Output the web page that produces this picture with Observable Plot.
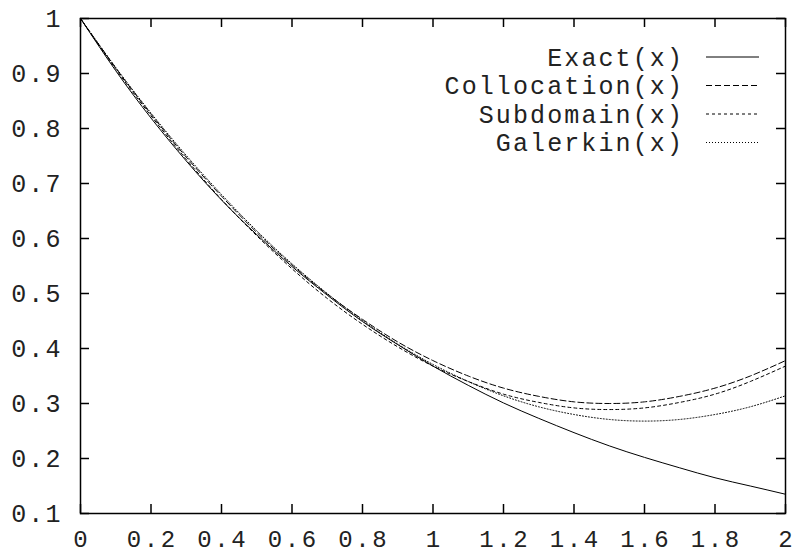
<!DOCTYPE html>
<html>
<head>
<meta charset="utf-8">
<script src="https://cdn.jsdelivr.net/npm/d3@7"></script>
<script src="https://cdn.jsdelivr.net/npm/@observablehq/plot@0.6"></script>
<style>
  html, body { margin: 0; padding: 0; background: #fff; }
  #chart svg text { letter-spacing: 2.1px; }
  #chart svg g[aria-label="x-axis tick label"] text { letter-spacing: 2.6px; font-size: 24px; }
</style>
</head>
<body>
<div id="chart"></div>
<script>
const xs = [0, 0.1, 0.2, 0.3, 0.4, 0.5, 0.6, 0.7, 0.8, 0.9, 1.0, 1.1, 1.2, 1.3, 1.4, 1.5, 1.6, 1.7, 1.8, 1.9, 2.0];
const exact = [1, 0.905, 0.819, 0.741, 0.670, 0.607, 0.549, 0.497, 0.449, 0.407, 0.368, 0.333, 0.301, 0.273, 0.247, 0.223, 0.202, 0.183, 0.165, 0.150, 0.135];
const collocation = [1, 0.910, 0.826, 0.748, 0.677, 0.611, 0.552, 0.499, 0.453, 0.412, 0.378, 0.350, 0.328, 0.313, 0.303, 0.300, 0.303, 0.313, 0.328, 0.350, 0.378];
const subdomain = [1, 0.908, 0.823, 0.744, 0.671, 0.605, 0.545, 0.491, 0.444, 0.403, 0.368, 0.340, 0.317, 0.302, 0.292, 0.289, 0.292, 0.302, 0.317, 0.340, 0.368];
const galerkin = [1, 0.911, 0.828, 0.751, 0.680, 0.614, 0.554, 0.500, 0.451, 0.408, 0.371, 0.340, 0.314, 0.294, 0.280, 0.271, 0.268, 0.271, 0.280, 0.294, 0.314];
const seriesNames = ["Exact(x)", "Collocation(x)", "Subdomain(x)", "Galerkin(x)"];
const seriesDash = ["none", "6,3", "3,3", "1,2"];
const xTicks = [0, 0.2, 0.4, 0.6, 0.8, 1, 1.2, 1.4, 1.6, 1.8, 2];
const yTicks = [0.1, 0.2, 0.3, 0.4, 0.5, 0.6, 0.7, 0.8, 0.9, 1];

const seriesValues = [exact, collocation, subdomain, galerkin];
const W = 794, H = 554, mL = 80, mR = 9, mT = 18, mB = 41;
const fw = W - mL - mR, fh = H - mT - mB, tick = 9;
const FONT = '"Liberation Mono", "DejaVu Sans Mono", monospace';

const lineMarks = seriesValues.map((vals, i) =>
  Plot.line(xs.map((x, j) => ({x, y: vals[j]})), {
    x: "x", y: "y", stroke: "black", strokeWidth: 1,
    strokeDasharray: seriesDash[i] === "none" ? undefined : seriesDash[i],
    curve: "natural"
  })
);

const chart = Plot.plot({
  width: W, height: H,
  marginLeft: mL, marginRight: mR, marginTop: mT, marginBottom: mB,
  x: {domain: [0, 2], label: null},
  y: {domain: [0.1, 1], label: null},
  style: {fontFamily: FONT, fontSize: "25px", background: "white", color: "black", overflow: "visible"},
  marks: [
    Plot.axisX(xTicks, {tickSize: 0, tickPadding: 16, fontSize: 24, tickFormat: d => String(d), dx: 1.3, fill: "#222", label: null}),
    Plot.axisY(yTicks, {tickSize: 0, tickPadding: 18, tickFormat: d => String(d), fill: "#222", label: null}),
    Plot.tickX(xTicks, {x: d => d, insetTop: fh - tick, stroke: "black", strokeWidth: 1.5}),
    Plot.tickX(xTicks, {x: d => d, insetBottom: fh - tick, stroke: "black", strokeWidth: 1.5}),
    Plot.tickY(yTicks, {y: d => d, insetRight: fw - tick, stroke: "black", strokeWidth: 1.5}),
    Plot.tickY(yTicks, {y: d => d, insetLeft: fw - tick, stroke: "black", strokeWidth: 1.5}),
    ...lineMarks,
    Plot.frame({stroke: "black", strokeWidth: 1.5})
  ]
});

document.getElementById("chart").appendChild(chart);

// Legend (gnuplot style, inside top-right)
const svg = d3.select(chart);
const lg = svg.append("g");
const rowY = [57, 85.5, 114, 142.5];
seriesNames.forEach((name, i) => {
  lg.append("text")
    .attr("x", 684).attr("y", rowY[i]).attr("dy", "0.35em")
    .attr("text-anchor", "end")
    .attr("fill", "#222")
    .style("font-family", FONT)
    .style("font-size", "25px")
    .text(name);
  const ln = lg.append("line")
    .attr("x1", 706).attr("x2", 759)
    .attr("y1", rowY[i]).attr("y2", rowY[i])
    .attr("stroke", "black").attr("stroke-width", 1);
  if (seriesDash[i] !== "none") ln.attr("stroke-dasharray", seriesDash[i]);
});
</script>
</body>
</html>
